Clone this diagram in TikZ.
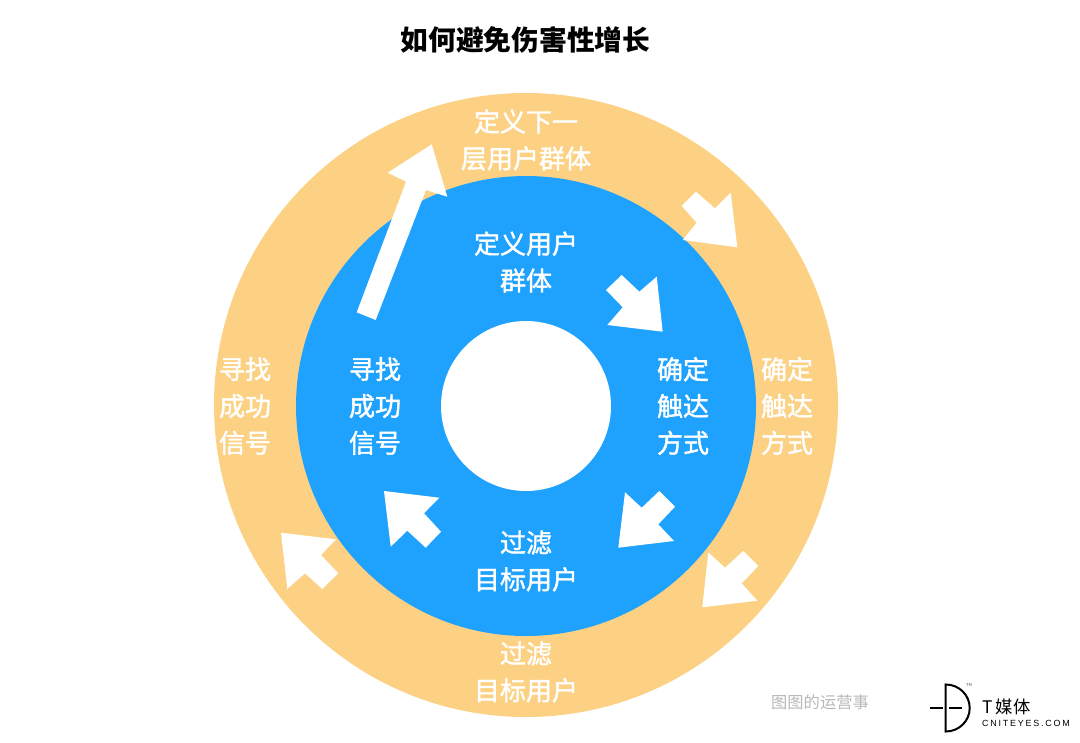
\documentclass[tikz,border=0pt]{standalone}
\usepackage{fontspec}
\setmainfont{Noto Sans CJK SC}
\newfontfamily\medcjk[FakeBold=1.6]{Noto Sans CJK SC}
\newfontfamily\latinlogo[LetterSpace=20]{Liberation Sans}
\definecolor{ringorange}{HTML}{FCD183}
\definecolor{discblue}{HTML}{1FA2FD}
\definecolor{markgray}{HTML}{B8B8B8}
\tikzset{
  label/.style={text=white,font=\fontsize{19.5}{27.6}\selectfont\medcjk,align=center,inner sep=0pt},
  whitearrow/.style={fill=white,draw=none},
  logoline/.style={draw=black,line width=1.5pt}
}
\begin{document}
\begin{tikzpicture}[x=0.75pt,y=-0.75pt]
\useasboundingbox[fill=white] (0,0) rectangle (1080,742);
\fill[ringorange] (526,405) circle[radius=312];
\fill[discblue] (526,406) circle[radius=230];
\fill[white] (526,406) circle[radius=85];
\node (title) at (525.5,40) [font=\fontsize{20.8}{24}\selectfont\bfseries,text=black,inner sep=0pt] {如何避免伤害性增长};
\node (outertop) at (526,140) [label] {定义下一\\层用户群体};
\node (innertop) at (526,262) [label] {定义用户\\群体};
\node (innerright) at (683,406) [label] {确定\\触达\\方式};
\node (outerright) at (787,406) [label] {确定\\触达\\方式};
\node (innerleft) at (375,406) [label] {寻找\\成功\\信号};
\node (outerleft) at (245,406) [label] {寻找\\成功\\信号};
\node (innerbottom) at (526,561) [label] {过滤\\目标用户};
\node (outerbottom) at (526,672) [label] {过滤\\目标用户};
% long arrow
\fill[whitearrow] (356.7,312.3) -- (375.7,320) -- (426,190) -- (447.3,196.7) -- (431.7,144.3) -- (387.7,172.7) -- (406,181.7) -- cycle;
% outer upper right
\fill[whitearrow] (696,191.7) -- (681.7,206) -- (696.7,222.7) -- (682.7,240) -- (737.3,247.3) -- (730.7,192.7) -- (715,208.3) -- cycle;
% inner upper right
\fill[whitearrow] (621.7,275) -- (606,290) -- (622.7,307.3) -- (607.3,325) -- (662.7,331.7) -- (656.7,276.7) -- (639.3,291.7) -- cycle;
% inner lower right
\fill[whitearrow] (618.3,547.7) -- (625,492.3) -- (641.7,507.7) -- (659.3,491) -- (675,506.7) -- (658.3,524.3) -- (674,541) -- cycle;
% outer lower right
\fill[whitearrow] (702.3,607.3) -- (708.3,552.3) -- (725,567.7) -- (743.3,551) -- (758.3,566) -- (741.7,583.3) -- (757.3,600.7) -- cycle;
% inner lower left
\fill[whitearrow] (384,491) -- (439.3,497.7) -- (424,513.3) -- (441,531.7) -- (425.7,547.7) -- (407.3,530.7) -- (390.7,546.7) -- cycle;
% outer lower left
\fill[whitearrow] (281,532.7) -- (336,539.3) -- (321,555) -- (338.3,573.3) -- (322.3,589) -- (305,573.3) -- (287.3,589) -- cycle;
% watermark and logo
\node (watermark) at (820,702) [text=markgray,font=\fontsize{12.2}{14}\selectfont,inner sep=0pt] {图图的运营事};
\draw[logoline] (945.7,684.5) .. controls (959,684.5) and (969.7,695) .. (969.7,708) .. controls (969.7,721) and (959,731.5) .. (945.7,731.5) -- cycle;
\draw[logoline] (930,707.7) -- (942.5,707.7) (949,707.7) -- (961.7,707.7);
\node (tm) at (969,685) [font=\fontsize{3}{4}\selectfont,text=black!70,inner sep=0pt] {TM};
\node (brand) at (1006.5,707) [font=\fontsize{13}{15}\selectfont,text=black,inner sep=0pt] {T\,媒体};
\node (site) at (1026,723) [font=\fontsize{6.7}{8}\latinlogo,text=black,inner sep=0pt] {CNITEYES.COM};
\end{tikzpicture}
\end{document}
